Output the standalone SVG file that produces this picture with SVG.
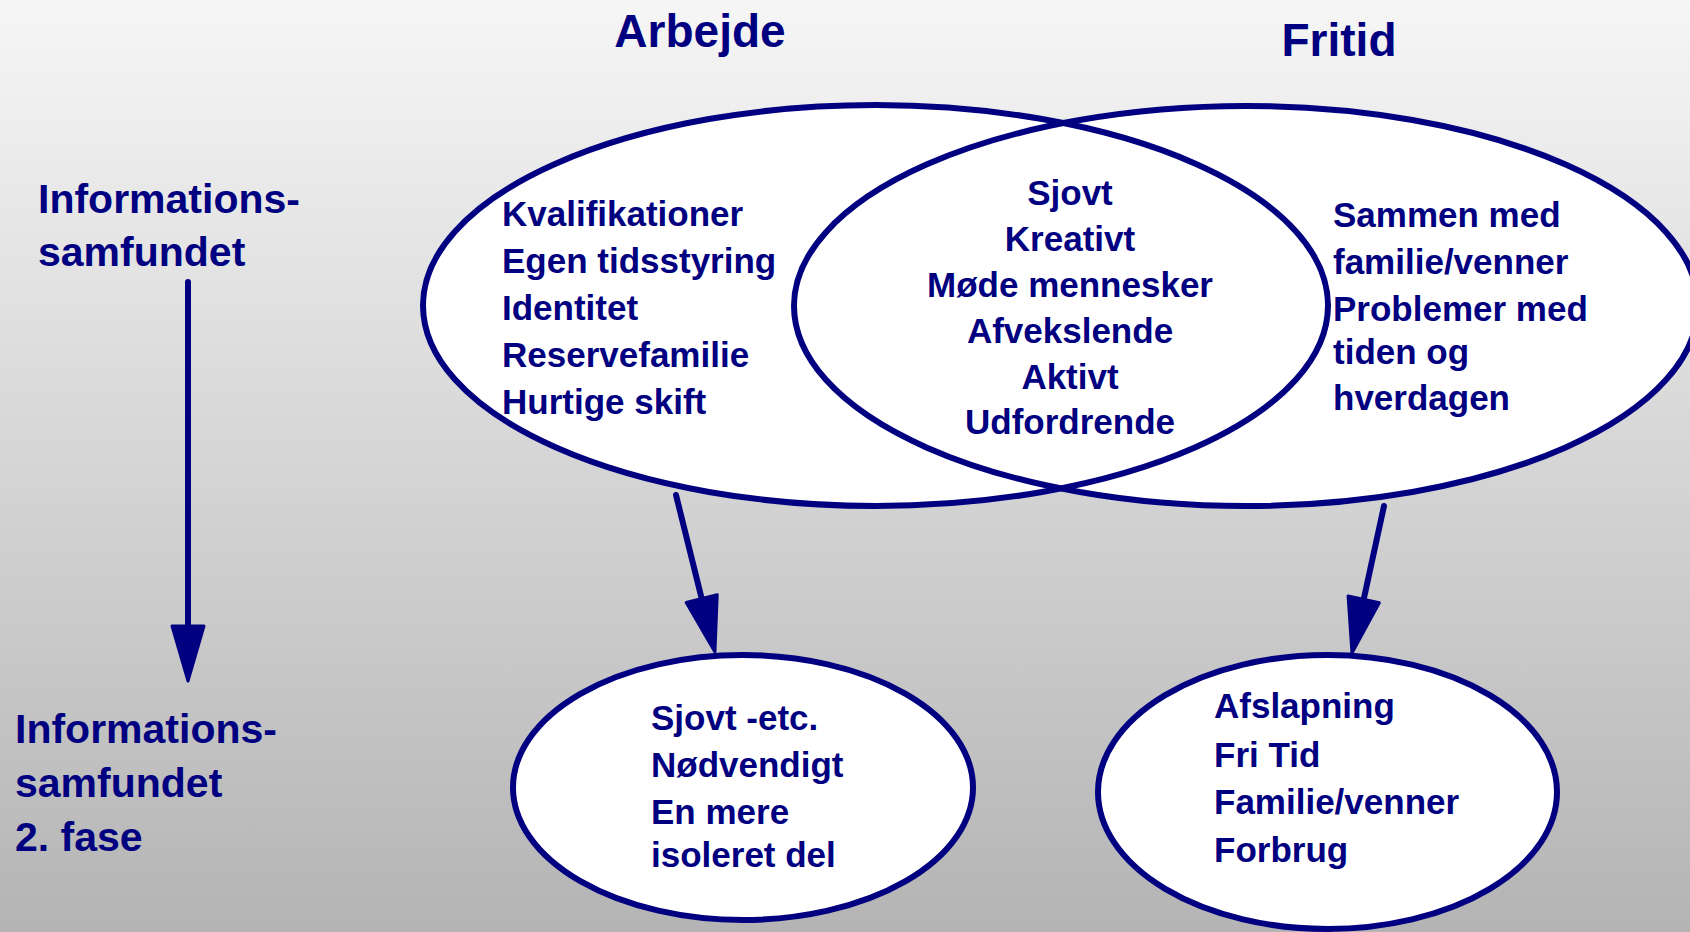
<svg xmlns="http://www.w3.org/2000/svg" width="1690" height="932" viewBox="0 0 1690 932">
  <defs>
    <linearGradient id="bg" x1="0" y1="0" x2="0" y2="1">
      <stop offset="0" stop-color="#f6f6f6"/>
      <stop offset="1" stop-color="#b4b4b4"/>
    </linearGradient>
    <marker id="head" markerUnits="userSpaceOnUse" markerWidth="62" markerHeight="40" viewBox="-3 -3 62 40" refX="0" refY="16" orient="auto">
      <path d="M0,0 L55,16 L0,32 Z" fill="#000080" stroke="#000080" stroke-width="3" stroke-linejoin="round"/>
    </marker>
    <style>
      .ell { fill: none; stroke: #000080; stroke-width: 6; }
      .fill { fill: #ffffff; stroke: none; }
      .t { font-family: "Liberation Sans", Arial, sans-serif; font-weight: bold; fill: #000080; }
      .title { font-size: 46px; text-anchor: middle; }
      .side { font-size: 41px; }
      .item { font-size: 35px; }
      .mid { text-anchor: middle; }
      .conn { stroke: #000080; stroke-width: 6; fill: none; stroke-linecap: round; marker-end: url(#head); }
    </style>
  </defs>

  <rect x="0" y="0" width="1690" height="932" fill="url(#bg)"/>

  <!-- headers -->
  <g id="header-arbejde">
    <text class="t title" x="700" y="47">Arbejde</text>
  </g>
  <g id="header-fritid">
    <text class="t title" x="1339" y="56">Fritid</text>
  </g>

  <!-- side labels -->
  <g id="label-info1">
    <text class="t side" x="38" y="213">Informations-</text>
    <text class="t side" x="38" y="266">samfundet</text>
  </g>
  <g id="label-info2">
    <text class="t side" x="15" y="743">Informations-</text>
    <text class="t side" x="15" y="797">samfundet</text>
    <text class="t side" x="15" y="851">2. fase</text>
  </g>

  <!-- venn fills -->
  <g id="venn-fills">
    <ellipse class="fill" cx="875.5" cy="305.5" rx="452.5" ry="200.5"/>
    <ellipse class="fill" cx="1246" cy="306" rx="452" ry="200"/>
  </g>

  <g id="node-arbejde">
    <ellipse class="ell" cx="875.5" cy="305.5" rx="452.5" ry="200.5"/>
    <text class="t item" x="502" y="226">Kvalifikationer</text>
    <text class="t item" x="502" y="273">Egen tidsstyring</text>
    <text class="t item" x="502" y="320">Identitet</text>
    <text class="t item" x="502" y="367">Reservefamilie</text>
    <text class="t item" x="502" y="414">Hurtige skift</text>
  </g>

  <g id="node-fritid">
    <ellipse class="ell" cx="1246" cy="306" rx="452" ry="200"/>
    <text class="t item" x="1333" y="227">Sammen med</text>
    <text class="t item" x="1333" y="274">familie/venner</text>
    <text class="t item" x="1333" y="321">Problemer med</text>
    <text class="t item" x="1333" y="364">tiden og</text>
    <text class="t item" x="1333" y="410">hverdagen</text>
  </g>

  <g id="node-faelles">
    <text class="t item mid" x="1070" y="205">Sjovt</text>
    <text class="t item mid" x="1070" y="251">Kreativt</text>
    <text class="t item mid" x="1070" y="297">Møde mennesker</text>
    <text class="t item mid" x="1070" y="343">Afvekslende</text>
    <text class="t item mid" x="1070" y="389">Aktivt</text>
    <text class="t item mid" x="1070" y="434">Udfordrende</text>
  </g>

  <g id="node-arbejde2">
    <ellipse cx="743" cy="787.5" rx="230" ry="132.5" fill="#ffffff" stroke="#000080" stroke-width="6"/>
    <text class="t item" x="651" y="730">Sjovt -etc.</text>
    <text class="t item" x="651" y="777">Nødvendigt</text>
    <text class="t item" x="651" y="824">En mere</text>
    <text class="t item" x="651" y="867">isoleret del</text>
  </g>

  <g id="node-fritid2">
    <ellipse cx="1327.5" cy="792" rx="229.5" ry="137" fill="#ffffff" stroke="#000080" stroke-width="6"/>
    <text class="t item" x="1214" y="718">Afslapning</text>
    <text class="t item" x="1214" y="767">Fri Tid</text>
    <text class="t item" x="1214" y="814">Familie/venner</text>
    <text class="t item" x="1214" y="862">Forbrug</text>
  </g>

  <g id="connectors">
    <line class="conn" x1="188" y1="282" x2="188" y2="626"/>
    <line class="conn" x1="676" y1="495" x2="701.7" y2="598.6"/>
    <line class="conn" x1="1384" y1="506" x2="1363.7" y2="599.3"/>
  </g>
</svg>
